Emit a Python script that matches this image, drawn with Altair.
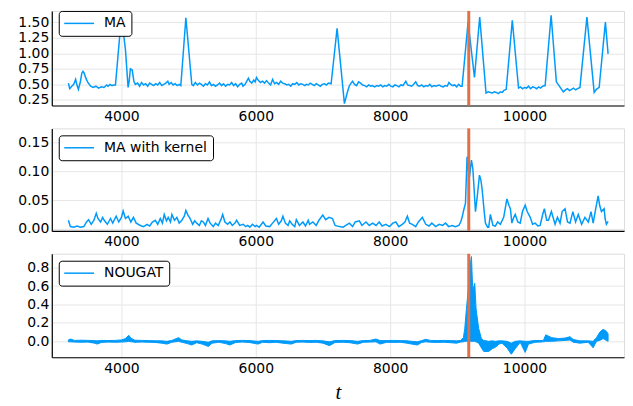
import altair as alt
import pandas as pd

BLUE = "#009AFA"
RED = "#E26F46"
FONT = "DejaVu Sans"

x_ticks = [4000, 6000, 8000, 10000]
x_domain = [2963, 11481]
change_t = [9170]

# ---- Panel 1: MA ----
ma_t = [
    3210, 3230, 3260, 3290, 3318, 3340, 3359, 3390, 3410, 3427,
    3445, 3470, 3500, 3541, 3580, 3620, 3660, 3700, 3740, 3780,
    3800, 3830, 3860, 3890, 3911, 4000, 4060, 4099, 4115, 4133,
    4160, 4185, 4207, 4240, 4270, 4300, 4330, 4360, 4390, 4420,
    4450, 4480, 4510, 4540, 4570, 4600, 4630, 4660, 4690, 4710,
    4740, 4770, 4800, 4830, 4860, 4884, 4959, 5047, 5070, 5100,
    5130, 5160, 5190, 5220, 5250, 5280, 5310, 5340, 5370, 5400,
    5430, 5460, 5490, 5520, 5550, 5580, 5610, 5640, 5670, 5700,
    5730, 5760, 5790, 5810, 5840, 5870, 5890, 5911, 5940, 5970,
    5990, 6010, 6040, 6070, 6100, 6130, 6160, 6190, 6220, 6250,
    6280, 6310, 6340, 6370, 6400, 6430, 6460, 6490, 6520, 6550,
    6580, 6610, 6640, 6670, 6700, 6730, 6751, 6780, 6810, 6840,
    6870, 6900, 6930, 6960, 6990, 7020, 7050, 7080, 7121, 7210,
    7319, 7360, 7390, 7418, 7440, 7470, 7500, 7530, 7560, 7590,
    7620, 7650, 7680, 7710, 7733, 7770, 7800, 7830, 7860, 7890,
    7920, 7950, 7980, 8010, 8040, 8070, 8100, 8130, 8160, 8190,
    8233, 8260, 8290, 8320, 8350, 8381, 8410, 8440, 8470, 8500,
    8530, 8560, 8590, 8620, 8650, 8680, 8726, 8760, 8790, 8820,
    8850, 8874, 8900, 8930, 8960, 8990, 9020, 9050, 9071, 9160,
    9255, 9333, 9427, 9460, 9490, 9520, 9550, 9580, 9610, 9640,
    9670, 9689, 9728, 9818, 9911, 9940, 9970, 10000, 10030, 10060,
    10090, 10120, 10150, 10180, 10210, 10240, 10270, 10307, 10396, 10474,
    10500, 10578, 10610, 10640, 10670, 10700, 10730, 10760, 10790, 10825,
    10929, 11037, 11070, 11111, 11204, 11244,
]
ma_v = [
    0.52, 0.43, 0.47, 0.50, 0.58, 0.48, 0.42, 0.55, 0.68, 0.71,
    0.68, 0.60, 0.53, 0.47, 0.45, 0.47, 0.44, 0.46, 0.45, 0.49,
    0.47, 0.50, 0.48, 0.49, 0.49, 1.60, 1.05, 0.45, 0.55, 0.75,
    0.73, 0.55, 0.50, 0.52, 0.47, 0.53, 0.49, 0.51, 0.47, 0.52,
    0.50, 0.48, 0.51, 0.49, 0.53, 0.48, 0.50, 0.52, 0.55, 0.50,
    0.53, 0.49, 0.51, 0.48, 0.50, 0.48, 1.57, 0.50, 0.48, 0.53,
    0.49, 0.52, 0.50, 0.47, 0.51, 0.49, 0.54, 0.48, 0.50, 0.47,
    0.49, 0.52, 0.48, 0.51, 0.47, 0.50, 0.49, 0.53, 0.48, 0.51,
    0.46, 0.50, 0.52, 0.47, 0.50, 0.56, 0.60, 0.55, 0.52, 0.57,
    0.54, 0.61, 0.56, 0.53, 0.55, 0.52, 0.56, 0.52, 0.49, 0.58,
    0.51, 0.53, 0.50, 0.55, 0.52, 0.51, 0.49, 0.50, 0.47, 0.51,
    0.50, 0.53, 0.49, 0.51, 0.50, 0.48, 0.50, 0.49, 0.52, 0.50,
    0.48, 0.51, 0.49, 0.47, 0.50, 0.51, 0.49, 0.52, 0.51, 1.40,
    0.19, 0.36, 0.47, 0.52, 0.55, 0.50, 0.48, 0.54, 0.52, 0.49,
    0.48, 0.46, 0.49, 0.47, 0.48, 0.46, 0.48, 0.47, 0.49, 0.46,
    0.48, 0.47, 0.50, 0.47, 0.46, 0.49, 0.48, 0.46, 0.49, 0.48,
    0.55, 0.49, 0.48, 0.47, 0.50, 0.54, 0.48, 0.47, 0.49, 0.46,
    0.48, 0.47, 0.50, 0.46, 0.48, 0.47, 0.49, 0.47, 0.46, 0.48,
    0.47, 0.53, 0.50, 0.48, 0.49, 0.46, 0.50, 0.47, 0.47, 1.50,
    0.61, 1.58, 0.36, 0.38, 0.37, 0.36, 0.38, 0.37, 0.35, 0.38,
    0.37, 0.40, 0.42, 1.53, 0.44, 0.46, 0.43, 0.45, 0.44, 0.47,
    0.43, 0.46, 0.45, 0.43, 0.46, 0.44, 0.47, 0.48, 1.61, 0.54,
    0.50, 0.38, 0.41, 0.43, 0.40, 0.42, 0.44, 0.41, 0.43, 0.45,
    1.58, 0.37, 0.42, 0.45, 1.50, 0.99,
]

# ---- Panel 2: MA with kernel ----
mk_t = [
    3210, 3240, 3290, 3340, 3390, 3440, 3480, 3511, 3550, 3590,
    3625, 3650, 3689, 3720, 3748, 3790, 3837, 3870, 3921, 3960,
    4000, 4025, 4060, 4100, 4140, 4178, 4220, 4281, 4330, 4381,
    4420, 4460, 4504, 4540, 4578, 4610, 4637, 4670, 4696, 4730,
    4751, 4790, 4825, 4860, 4899, 4935, 4959, 4990, 5022, 5060,
    5090, 5121, 5160, 5190, 5219, 5250, 5289, 5320, 5367, 5400,
    5440, 5480, 5507, 5540, 5580, 5615, 5650, 5690, 5714, 5760,
    5812, 5850, 5880, 5911, 5950, 5990, 6010, 6050, 6108, 6150,
    6207, 6250, 6307, 6340, 6380, 6404, 6440, 6480, 6504, 6540,
    6580, 6603, 6650, 6701, 6740, 6780, 6800, 6850, 6899, 6940,
    6997, 7040, 7090, 7141, 7180, 7244, 7300, 7340, 7393, 7440,
    7480, 7541, 7580, 7640, 7690, 7738, 7790, 7837, 7880, 7936,
    7990, 8040, 8084, 8130, 8180, 8220, 8256, 8290, 8330, 8380,
    8420, 8479, 8530, 8578, 8620, 8677, 8730, 8780, 8825, 8870,
    8923, 8970, 9022, 9050, 9071, 9100, 9121, 9145, 9165, 9181,
    9210, 9230, 9244, 9270, 9300, 9329, 9350, 9368, 9400, 9418,
    9450, 9467, 9492, 9530, 9566, 9600, 9640, 9690, 9738, 9770,
    9790, 9812, 9840, 9862, 9900, 9936, 9970, 10010, 10040, 10085,
    10120, 10159, 10200, 10233, 10270, 10296, 10330, 10356, 10400, 10455,
    10490, 10529, 10560, 10603, 10640, 10677, 10720, 10760, 10800, 10850,
    10899, 10950, 10990, 11022, 11060, 11096, 11120, 11145, 11185, 11200,
    11219, 11244,
]
mk_v = [
    0.015, 0.004, 0.003, 0.005, 0.003, 0.004, 0.012, 0.016, 0.008, 0.015,
    0.027, 0.018, 0.012, 0.020, 0.014, 0.008, 0.018, 0.010, 0.022, 0.012,
    0.020, 0.031, 0.018, 0.022, 0.012, 0.020, 0.010, 0.006, 0.004, 0.008,
    0.005, 0.012, 0.015, 0.008, 0.018, 0.010, 0.025, 0.014, 0.020, 0.012,
    0.025, 0.015, 0.020, 0.010, 0.015, 0.022, 0.032, 0.024, 0.018, 0.008,
    0.014, 0.010, 0.006, 0.014, 0.012, 0.006, 0.018, 0.010, 0.004, 0.010,
    0.006, 0.016, 0.025, 0.012, 0.008, 0.012, 0.006, 0.010, 0.015, 0.006,
    0.008, 0.004, 0.006, 0.003, 0.008, 0.004, 0.006, 0.003, 0.012, 0.005,
    0.004, 0.010, 0.018, 0.008, 0.014, 0.022, 0.010, 0.006, 0.014, 0.008,
    0.004, 0.016, 0.006, 0.012, 0.005, 0.015, 0.008, 0.012, 0.006, 0.015,
    0.024, 0.016, 0.020, 0.018, 0.006, 0.004, 0.003, 0.006, 0.010, 0.004,
    0.012, 0.014, 0.006, 0.012, 0.006, 0.010, 0.006, 0.012, 0.005, 0.008,
    0.004, 0.010, 0.012, 0.004, 0.008, 0.012, 0.022, 0.010, 0.008, 0.004,
    0.012, 0.020, 0.008, 0.005, 0.010, 0.004, 0.008, 0.006, 0.010, 0.004,
    0.006, 0.004, 0.006, 0.012, 0.020, 0.035, 0.044, 0.125, 0.100, 0.090,
    0.119, 0.105, 0.080, 0.030, 0.060, 0.093, 0.085, 0.070, 0.030, 0.010,
    0.003, 0.003, 0.025, 0.006, 0.005, 0.012, 0.008, 0.020, 0.052, 0.040,
    0.035, 0.010, 0.020, 0.025, 0.012, 0.010, 0.030, 0.041, 0.030, 0.020,
    0.008, 0.010, 0.005, 0.006, 0.025, 0.035, 0.015, 0.015, 0.030, 0.008,
    0.020, 0.010, 0.030, 0.035, 0.012, 0.010, 0.030, 0.012, 0.025, 0.008,
    0.020, 0.012, 0.030, 0.010, 0.035, 0.057, 0.040, 0.030, 0.035, 0.018,
    0.008, 0.013,
]

# ---- Panel 3: NOUGAT (dense oscillation drawn as its envelope band) ----
ng_t = [
    3210, 3244, 3300, 3400, 3500, 3600, 3640, 3700, 3800, 3900,
    4000, 4060, 4108, 4150, 4200, 4300, 4400, 4500, 4600, 4677,
    4750, 4849, 4900, 4980, 5047, 5120, 5200, 5293, 5350, 5450,
    5550, 5615, 5700, 5800, 5900, 6034, 6100, 6200, 6300, 6400,
    6529, 6600, 6700, 6800, 6900, 7000, 7096, 7180, 7300, 7400,
    7516, 7600, 7700, 7788, 7850, 7950, 8050, 8150, 8250, 8320,
    8404, 8470, 8529, 8600, 8700, 8800, 8900, 8990, 9050, 9090,
    9111, 9136, 9160, 9185, 9210, 9230, 9259, 9279, 9318, 9358,
    9393, 9467, 9520, 9566, 9620, 9664, 9738, 9803, 9862, 9936,
    10010, 10059, 10158, 10230, 10281, 10316, 10405, 10504, 10603, 10677,
    10726, 10825, 10948, 11022, 11071, 11121, 11170, 11219, 11244,
]
ng_hi = [
    0.015, 0.025, 0.010, 0.012, 0.010, 0.008, 0.005, 0.010, 0.008, 0.010,
    0.015, 0.030, 0.065, 0.030, 0.012, 0.010, 0.008, 0.006, 0.005, 0.000,
    0.010, 0.040, 0.015, 0.005, 0.000, 0.005, 0.000, -0.010, 0.005, 0.008,
    0.005, 0.000, 0.008, 0.010, 0.008, 0.000, 0.008, 0.010, 0.008, 0.006,
    0.000, 0.008, 0.010, 0.008, 0.010, 0.005, -0.005, 0.008, 0.010, 0.008,
    0.000, 0.008, 0.010, 0.025, 0.008, 0.008, 0.010, 0.008, 0.006, 0.000,
    -0.005, 0.008, 0.022, 0.010, 0.008, 0.010, 0.008, 0.005, 0.010, 0.040,
    0.140, 0.360, 0.540, 0.800, 0.920, 0.550, 0.630, 0.350, 0.140, 0.030,
    0.010, 0.000, 0.005, 0.000, 0.005, 0.005, 0.000, -0.020, 0.000, 0.005,
    0.000, 0.000, 0.010, 0.008, 0.010, 0.070, 0.040, 0.030, 0.035, 0.050,
    0.020, 0.005, 0.005, 0.000, 0.040, 0.100, 0.130, 0.110, 0.080,
]
ng_lo = [
    -0.005, -0.005, -0.008, -0.010, -0.008, -0.020, -0.030, -0.012, -0.008, -0.010,
    -0.008, -0.005, 0.000, -0.005, -0.010, -0.008, -0.010, -0.012, -0.020, -0.030,
    -0.010, 0.000, -0.010, -0.025, -0.040, -0.015, -0.030, -0.055, -0.020, -0.010,
    -0.025, -0.040, -0.012, -0.008, -0.012, -0.030, -0.010, -0.015, -0.010, -0.020,
    -0.030, -0.010, -0.008, -0.012, -0.010, -0.020, -0.047, -0.012, -0.010, -0.015,
    -0.030, -0.010, -0.008, -0.005, -0.030, -0.010, -0.012, -0.010, -0.020, -0.030,
    -0.040, -0.012, -0.005, -0.010, -0.012, -0.010, -0.015, -0.020, -0.008, -0.005,
    0.000, 0.000, 0.000, 0.000, 0.000, 0.000, 0.000, -0.005, -0.020, -0.070,
    -0.110, -0.110, -0.080, -0.065, -0.030, -0.020, -0.070, -0.140, -0.080, -0.010,
    -0.120, -0.030, -0.010, -0.008, -0.005, 0.000, 0.000, 0.005, 0.010, 0.015,
    -0.010, -0.020, -0.010, -0.070, 0.000, 0.010, 0.030, 0.010, 0.000,
]

df_ma = pd.DataFrame({"t": ma_t, "v": ma_v, "series": "MA"})
df_mk = pd.DataFrame({"t": mk_t, "v": mk_v, "series": "MA with kernel"})
df_ng = pd.DataFrame({"t": ng_t, "hi": ng_hi, "lo": ng_lo, "series": "NOUGAT"})
df_cp = pd.DataFrame({"t": change_t})


def x_enc(title=None):
    axis_kw = dict(
        values=x_ticks, format="d", grid=True, gridColor="#e6e6e6", gridWidth=1,
        domainColor="black", domainWidth=1.2, ticks=False, labelFont=FONT,
        labelFontSize=14, labelColor="black", labelPadding=4,
    )
    if title:
        axis_kw.update(title=title, titleFont="Liberation Serif", titleFontStyle="italic",
                       titleFontWeight="normal", titleFontSize=21, titleColor="black",
                       titlePadding=6)
    else:
        axis_kw.update(title=None)
    return alt.X("t:Q", scale=alt.Scale(domain=x_domain, nice=False, zero=False),
                 axis=alt.Axis(**axis_kw))


def y_axis(vals, fmt):
    return alt.Axis(values=vals, format=fmt, title=None, grid=True, gridColor="#e6e6e6",
                    gridWidth=1, domainColor="black", domainWidth=1.2, ticks=False,
                    labelFont=FONT, labelFontSize=14, labelColor="black", labelPadding=3)


def legend(ly=7):
    return alt.Legend(title=None, orient="none", legendX=7, legendY=ly,
                      symbolType="M-1.4,0H4.6", symbolSize=100, symbolStrokeWidth=1.5,
                      symbolStrokeColor=BLUE, labelFont=FONT, labelFontSize=14,
                      labelColor="black", labelOffset=26, strokeColor="black",
                      fillColor="white", cornerRadius=3, padding=5.5)


def rule(title=None):
    return alt.Chart(df_cp).mark_rule(color=RED, strokeWidth=3).encode(x=x_enc(title))


p1_line = alt.Chart(df_ma).mark_line(strokeWidth=1.5, clip=True).encode(
    x=x_enc(),
    y=alt.Y("v:Q", scale=alt.Scale(domain=[0.16, 1.68], nice=False, zero=False),
            axis=y_axis([0.25, 0.5, 0.75, 1.0, 1.25, 1.5], ".2f")),
    color=alt.Color("series:N", scale=alt.Scale(domain=["MA"], range=[BLUE]), legend=legend(0)),
)
p1 = alt.layer(p1_line, rule()).properties(width=575, height=95)

p2_line = alt.Chart(df_mk).mark_line(strokeWidth=1.5, clip=True).encode(
    x=x_enc(),
    y=alt.Y("v:Q", scale=alt.Scale(domain=[-0.0034, 0.174], nice=False, zero=False),
            axis=y_axis([0.0, 0.05, 0.10, 0.15], ".2f")),
    color=alt.Color("series:N", scale=alt.Scale(domain=["MA with kernel"], range=[BLUE]),
                    legend=legend()),
)
p2 = alt.layer(p2_line, rule()).properties(width=575, height=103)

p3_area = alt.Chart(df_ng).mark_area(strokeWidth=1.0, stroke=BLUE, opacity=1, clip=True).encode(
    x=x_enc("t"),
    y=alt.Y("lo:Q", scale=alt.Scale(domain=[-0.173, 0.95], nice=False, zero=False),
            axis=y_axis([0.0, 0.2, 0.4, 0.6, 0.8], ".1f")),
    y2="hi:Q",
    color=alt.Color("series:N", scale=alt.Scale(domain=["NOUGAT"], range=[BLUE]), legend=legend()),
)
p3 = alt.layer(p3_area, rule("t")).properties(width=575, height=104)

chart = alt.vconcat(p1, p2, p3, spacing=2).resolve_scale(
    color="independent", y="independent", x="independent"
).resolve_legend(color="independent").properties(
    padding={"left": 9, "top": 0, "right": 0, "bottom": 0}
).configure_view(stroke=None).configure(background="white")

chart.save("out.html", embed_options={"renderer": "svg", "actions": False})
